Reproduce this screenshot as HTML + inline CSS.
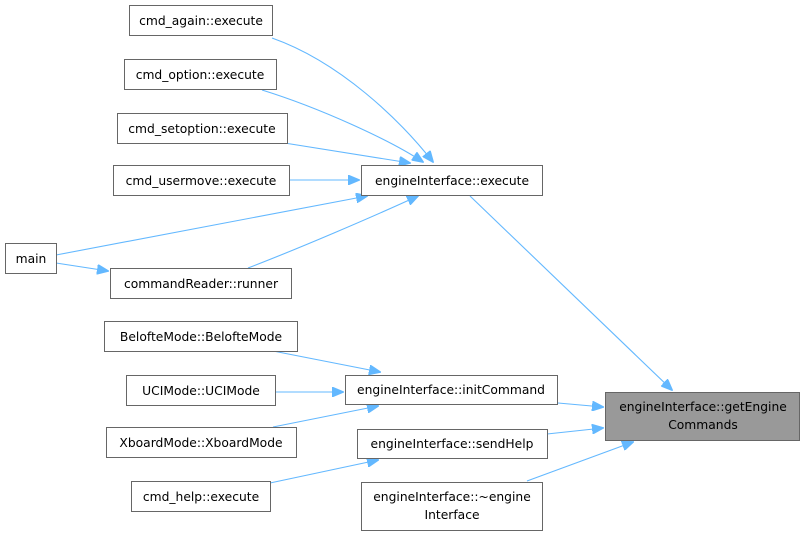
<!DOCTYPE html>
<html><head><meta charset="utf-8"><style>
body{margin:0;background:#fff;}
svg{display:block;}
text{font-family:"DejaVu Sans","Liberation Sans",sans-serif;font-size:12.3px;fill:#000;text-anchor:middle;}
rect{fill:#fff;stroke:#666;stroke-width:1;}
path{fill:none;stroke:#63b8ff;stroke-width:1.1;}
</style></head><body>
<svg width="805" height="537" viewBox="0 0 805 537">
<defs><marker id="a" markerWidth="12" markerHeight="10" refX="11" refY="5" orient="auto" markerUnits="userSpaceOnUse"><polygon points="0,0 12,5 0,10" fill="#63b8ff" stroke="#63b8ff"/></marker></defs>
<path d="M272,38 C340,62 400,120 433,162" marker-end="url(#a)"/>
<path d="M262,90 C320,108 390,140 423,162" marker-end="url(#a)"/>
<path d="M272,141 L410,163" marker-end="url(#a)"/>
<path d="M289,180 L359,180" marker-end="url(#a)"/>
<path d="M56,255 L367,196" marker-end="url(#a)"/>
<path d="M248,268 C300,248 370,218 418,196" marker-end="url(#a)"/>
<path d="M56,263 L108,271" marker-end="url(#a)"/>
<path d="M470,196 L672,390" marker-end="url(#a)"/>
<path d="M273,351 L380,372" marker-end="url(#a)"/>
<path d="M275,392 L343,392" marker-end="url(#a)"/>
<path d="M273,427 L378,406" marker-end="url(#a)"/>
<path d="M558,403 L603,407" marker-end="url(#a)"/>
<path d="M547,434 L603,428" marker-end="url(#a)"/>
<path d="M270,483 L378,460" marker-end="url(#a)"/>
<path d="M527,481 L633,442" marker-end="url(#a)"/>

<rect x="129.5" y="5.5" width="143" height="30"/><text x="201" y="25">cmd_again::execute</text>
<rect x="124.5" y="59.5" width="152" height="30"/><text x="200" y="79">cmd_option::execute</text>
<rect x="117.5" y="113.5" width="170" height="30"/><text x="202" y="133">cmd_setoption::execute</text>
<rect x="113.5" y="165.5" width="176" height="30"/><text x="201" y="185">cmd_usermove::execute</text>
<rect x="361.5" y="165.5" width="181" height="30"/><text x="452" y="185">engineInterface::execute</text>
<rect x="5.5" y="243.5" width="51" height="30"/><text x="31" y="263">main</text>
<rect x="110.5" y="268.5" width="181" height="30"/><text x="201" y="288">commandReader::runner</text>
<rect x="104.5" y="321.5" width="193" height="30"/><text x="201" y="341">BelofteMode::BelofteMode</text>
<rect x="126.5" y="375.5" width="149" height="30"/><text x="201" y="395">UCIMode::UCIMode</text>
<rect x="345.5" y="375.5" width="212" height="29"/><text x="451" y="394">engineInterface::initCommand</text>
<rect x="106.5" y="427.5" width="190" height="30"/><text x="201" y="447">XboardMode::XboardMode</text>
<rect x="357.5" y="429.5" width="190" height="29"/><text x="452" y="448">engineInterface::sendHelp</text>
<rect x="131.5" y="481.5" width="139" height="30"/><text x="201" y="501">cmd_help::execute</text>
<rect x="361.5" y="482.5" width="181" height="48"/><text x="452" y="501">engineInterface::~engine</text><text x="452" y="519">Interface</text>
<rect x="605.5" y="392.5" width="194" height="48" style="fill:#999"/><text x="703" y="411">engineInterface::getEngine</text><text x="703" y="429">Commands</text>
</svg>
</body></html>
